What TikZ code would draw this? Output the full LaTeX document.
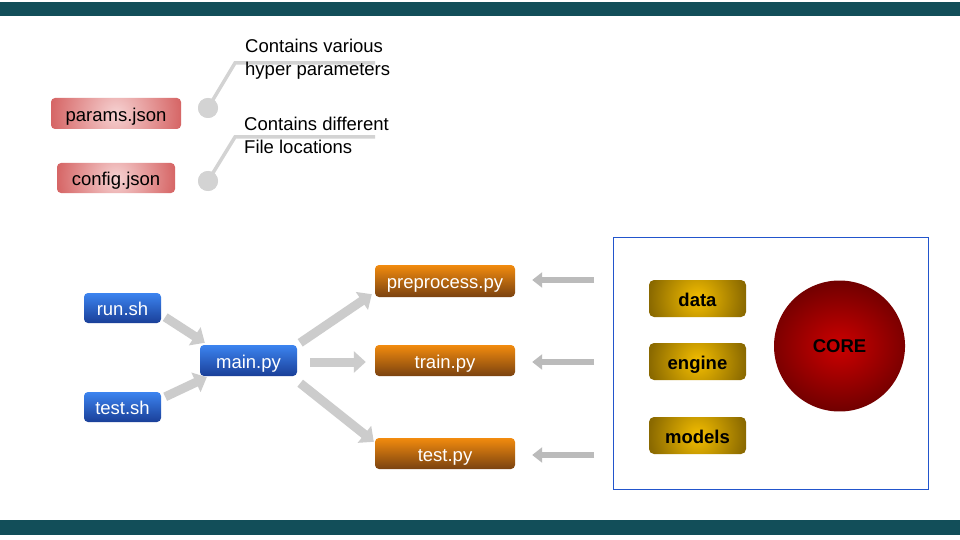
\documentclass[tikz,border=0pt]{standalone}
\usepackage{fontspec}
\setmainfont{Liberation Sans}
\usetikzlibrary{arrows.meta,calc}
\definecolor{barc}{HTML}{124E59}
\definecolor{pinkin}{HTML}{F6D2D2}
\definecolor{pinkout}{HTML}{D66666}
\definecolor{bluetop}{HTML}{3C84F0}
\definecolor{bluebot}{HTML}{1A3F98}
\definecolor{orgtop}{HTML}{F28B0E}
\definecolor{orgbot}{HTML}{7A4210}
\definecolor{goldin}{HTML}{F4BE00}
\definecolor{goldout}{HTML}{8A6900}
\definecolor{redin}{HTML}{CC0000}
\definecolor{redout}{HTML}{720000}
\definecolor{arrowgray}{HTML}{CCCCCC}
\definecolor{arrowdark}{HTML}{BBBBBB}
\definecolor{callgray}{HTML}{D3D3D3}
\definecolor{frameblue}{HTML}{2255CC}
\begin{document}
\begin{tikzpicture}[x=1pt,y=-1pt,
  txt/.style={font=\fontsize{18.5}{23}\selectfont},
  boxtext/.style={text height=15.5pt,text depth=0pt},
  radfill/.style n args={3}{path picture={\shade[inner color=#1,outer color=#2]
      ([shift={(-#3,-#3)}]path picture bounding box.center) rectangle
      ([shift={(#3,#3)}]path picture bounding box.center);}},
  pinkbox/.style={txt,boxtext,rounded corners=4pt,inner sep=0pt,text=black},
  bluebox/.style={txt,boxtext,rounded corners=4pt,inner sep=0pt,top color=bluetop,bottom color=bluebot,text=white,minimum width=77pt,minimum height=30pt},
  orgbox/.style={txt,boxtext,rounded corners=4pt,inner sep=0pt,top color=orgtop,bottom color=orgbot,text=white,minimum width=140pt,minimum height=31pt},
  goldbox/.style={txt,boxtext,font=\fontsize{18.5}{23}\selectfont\bfseries,rounded corners=5pt,inner sep=0pt,radfill={goldin}{goldout}{48.5pt},text=black,minimum width=97pt,minimum height=37pt},
  bigarrow/.style={draw=arrowgray,line width=9pt,-{Triangle[width=21pt,length=12pt]}},
  smallarrow/.style={draw=arrowdark,line width=6pt,-{Triangle[width=15pt,length=10pt]}},
  callline/.style={draw=callgray,line width=3.5pt},
  calldot/.style={circle,fill=callgray,minimum size=20pt,inner sep=0pt},
  calltxt/.style={txt,anchor=west,align=left,inner sep=0pt}
]
\useasboundingbox (0,0) rectangle (960,540);
\fill[white] (0,0) rectangle (960,540);
% bars
\fill[barc] (0,2) rectangle (960,16);
\fill[barc] (0,520) rectangle (960,535);

% json boxes
\node[pinkbox,radfill={pinkin}{pinkout}{65pt},minimum width=130pt,minimum height=31pt] (params) at (116,113.5) {params.json};
\node[pinkbox,radfill={pinkin}{pinkout}{59pt},minimum width=118pt,minimum height=30pt] (config) at (116,178) {config.json};

% callouts
\coordinate (k1) at (235,63);
\coordinate (e1) at (375,63);
\coordinate (k2) at (235,137);
\coordinate (e2) at (375,137);
\node[calldot] (d1) at (208,108) {};
\node[calldot] (d2) at (208,181) {};
\draw[callline] (d1.center) -- (k1) -- (e1);
\draw[callline] (d2.center) -- (k2) -- (e2);
\node[calldot] at (d1) {};
\node[calldot] at (d2) {};
\node[calltxt] (t1) at (245,59) {Contains various\\hyper parameters};
\node[calltxt] (t2) at (244,135) {Contains different\\File locations};

% shell + main
\node[bluebox] (run) at (122.5,308) {run.sh};
\node[bluebox] (testsh) at (122.5,407) {test.sh};
\node[bluebox,minimum width=97pt,minimum height=31pt] (main) at (248.5,360.5) {main.py};

% python files
\node[orgbox,minimum height=32pt] (pre) at (445,281) {preprocess.py};
\node[orgbox] (train) at (445,360.5) {train.py};
\node[orgbox] (testpy) at (445,453.5) {test.py};

% arrows
\draw[bigarrow] ([xshift=4pt,yshift=6pt]run.south east) -- ([xshift=5pt,yshift=2pt]main.north west);
\draw[bigarrow] ([xshift=4pt,yshift=-5pt]testsh.north east) -- ([xshift=7pt,yshift=-1pt]main.south west);
\draw[bigarrow] ([xshift=3pt,yshift=2pt]main.north east) -- ([xshift=-3pt,yshift=3pt]pre.south west);
\draw[bigarrow] ([xshift=13pt,yshift=-1.5pt]main.east) -- ([xshift=-9pt,yshift=-1.5pt]train.west);
\draw[bigarrow] ([xshift=3pt,yshift=-7pt]main.south east) -- ([xshift=-1pt,yshift=-4pt]testpy.north west);

% core frame
\node[draw=frameblue,line width=1pt,minimum width=315pt,minimum height=252pt,inner sep=0pt] (frame) at (770.5,363) {};
\node[goldbox] (data) at (697.5,298.5) {data};
\node[goldbox] (engine) at (697.5,361.5) {engine};
\node[goldbox] (models) at (697.5,435.5) {models};
\shade[inner color=redin,outer color=redout,rotate around={30:(839.5,346)}] (839.5,346) circle[radius=65.5];
\node[font=\fontsize{18.5}{23}\selectfont\bfseries,text=black,inner sep=0pt] (core) at (839.5,346) {CORE};

% right arrows
\coordinate (s1) at (594,280);
\coordinate (s2) at (594,362);
\coordinate (s3) at (594,455);
\draw[smallarrow] (s1) -- ($(s1 -| pre.east)+(17,0)$);
\draw[smallarrow] (s2) -- ($(s2 -| train.east)+(17,0)$);
\draw[smallarrow] (s3) -- ($(s3 -| testpy.east)+(17,0)$);
\end{tikzpicture}
\end{document}
